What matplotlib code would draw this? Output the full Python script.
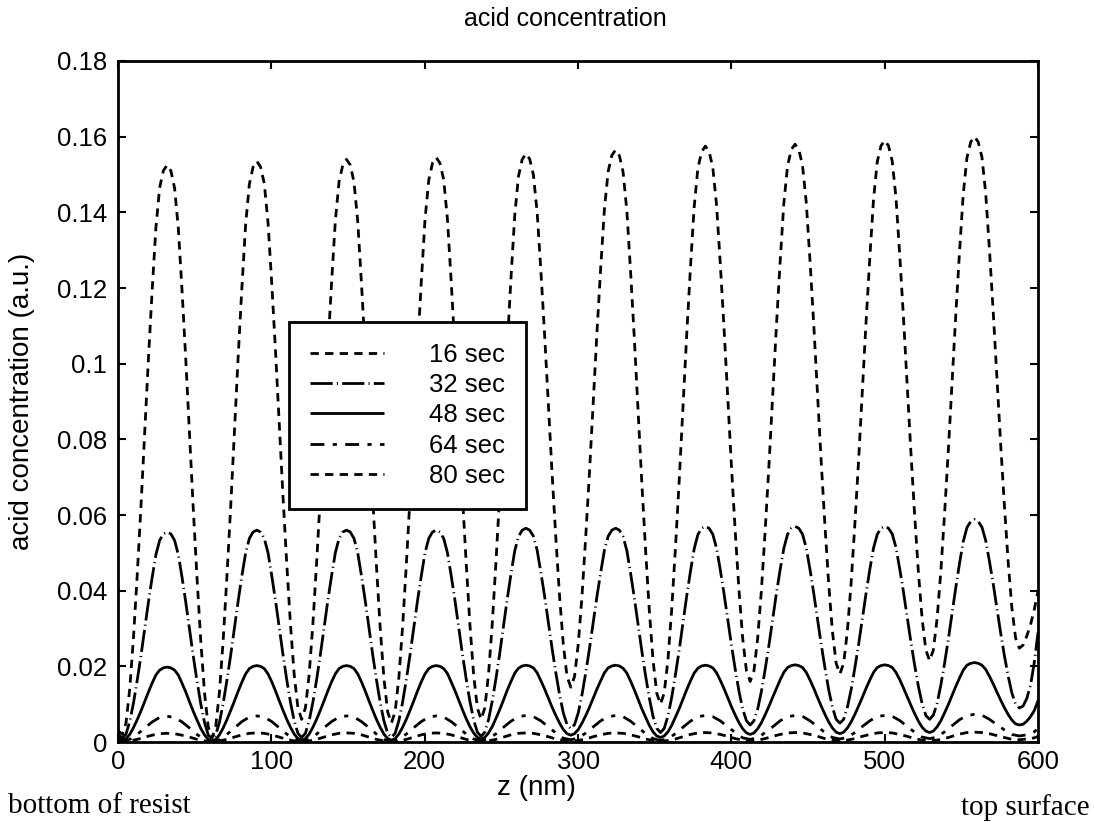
import numpy as np
import matplotlib
matplotlib.use("Agg")
import matplotlib.pyplot as plt

plt.rcParams["font.family"] = ["Liberation Sans", "DejaVu Sans"]
plt.rcParams["lines.scale_dashes"] = False

# depth sampling (nm): 24 samples per standing-wave period for the large curves,
# 12 per period for the two small ones
z_fine = np.concatenate(([0.0], 2.75 + 2.4375 * np.arange(245), [600.0]))
z_coarse = np.concatenate(([0.0], 2.75 + 4.875 * np.arange(123), [600.0]))

acid_16s = [
    0.003,
    0.002, 0.0050, 0.0140, 0.0276, 0.0441, 0.0622, 0.0818, 0.1013, 0.1194, 0.1359, 0.1465, 0.1510,
    0.1525, 0.1510, 0.1464, 0.1358, 0.1192, 0.1010, 0.0813, 0.0616, 0.0434, 0.0268, 0.0131, 0.0040,
    0.001, 0.0041, 0.0132, 0.0269, 0.0437, 0.0620, 0.0818, 0.1017, 0.1200, 0.1367, 0.1474, 0.1520,
    0.1535, 0.1520, 0.1476, 0.1373, 0.1211, 0.1034, 0.0842, 0.0650, 0.0473, 0.0311, 0.0178, 0.0090,
    0.006, 0.0090, 0.0178, 0.0312, 0.0474, 0.0652, 0.0844, 0.1037, 0.1214, 0.1377, 0.1481, 0.1525,
    0.1540, 0.1525, 0.1480, 0.1376, 0.1212, 0.1033, 0.0840, 0.0646, 0.0467, 0.0303, 0.0169, 0.0080,
    0.005, 0.0080, 0.0170, 0.0304, 0.0469, 0.0648, 0.0842, 0.1037, 0.1216, 0.1381, 0.1485, 0.1530,
    0.1545, 0.1530, 0.1486, 0.1382, 0.1218, 0.1040, 0.0847, 0.0654, 0.0476, 0.0312, 0.0179, 0.0090,
    0.006, 0.0090, 0.0180, 0.0314, 0.0479, 0.0658, 0.0852, 0.1047, 0.1226, 0.1391, 0.1495, 0.1540,
    0.1555, 0.1541, 0.1499, 0.1400, 0.1245, 0.1076, 0.0892, 0.0709, 0.0540, 0.0385, 0.0258, 0.0173,
    0.0145, 0.0173, 0.0259, 0.0386, 0.0543, 0.0713, 0.0898, 0.1082, 0.1253, 0.1409, 0.1508, 0.1551,
    0.1565, 0.1550, 0.1506, 0.1404, 0.1243, 0.1067, 0.0876, 0.0686, 0.0510, 0.0349, 0.0217, 0.0129,
    0.010, 0.0130, 0.0218, 0.0351, 0.0513, 0.0690, 0.0882, 0.1074, 0.1251, 0.1413, 0.1516, 0.1560,
    0.1575, 0.1561, 0.1518, 0.1419, 0.1264, 0.1094, 0.0910, 0.0726, 0.0556, 0.0401, 0.0273, 0.0188,
    0.016, 0.0188, 0.0274, 0.0401, 0.0558, 0.0728, 0.0913, 0.1097, 0.1268, 0.1424, 0.1523, 0.1566,
    0.1580, 0.1566, 0.1524, 0.1426, 0.1272, 0.1104, 0.0922, 0.0740, 0.0572, 0.0418, 0.0292, 0.0208,
    0.018, 0.0208, 0.0293, 0.0420, 0.0575, 0.0744, 0.0927, 0.1111, 0.1280, 0.1435, 0.1534, 0.1576,
    0.1590, 0.1576, 0.1535, 0.1439, 0.1288, 0.1123, 0.0944, 0.0765, 0.0600, 0.0449, 0.0325, 0.0243,
    0.0215, 0.0243, 0.0326, 0.0451, 0.0603, 0.0769, 0.0949, 0.1129, 0.1295, 0.1448, 0.1545, 0.1586,
    0.1600, 0.1586, 0.1546, 0.1451, 0.1303, 0.1140, 0.0965, 0.0789, 0.0627, 0.0478, 0.0356, 0.0275,
    0.0248, 0.0256, 0.0280, 0.0310, 0.0350,
    0.040,
]

acid_32s = [
    0.002,
    0.001, 0.0021, 0.0054, 0.0103, 0.0163, 0.0228, 0.0299, 0.0370, 0.0435, 0.0495, 0.0533, 0.0550,
    0.0555, 0.0550, 0.0533, 0.0495, 0.0435, 0.0369, 0.0298, 0.0227, 0.0161, 0.0101, 0.0052, 0.0019,
    0.0008, 0.0019, 0.0052, 0.0102, 0.0163, 0.0229, 0.0301, 0.0372, 0.0439, 0.0499, 0.0538, 0.0555,
    0.0560, 0.0555, 0.0538, 0.0500, 0.0439, 0.0374, 0.0302, 0.0231, 0.0165, 0.0105, 0.0056, 0.0023,
    0.0012, 0.0023, 0.0056, 0.0105, 0.0165, 0.0231, 0.0302, 0.0374, 0.0439, 0.0500, 0.0538, 0.0555,
    0.0560, 0.0555, 0.0538, 0.0500, 0.0439, 0.0374, 0.0302, 0.0231, 0.0165, 0.0105, 0.0056, 0.0023,
    0.0012, 0.0023, 0.0056, 0.0105, 0.0165, 0.0231, 0.0302, 0.0374, 0.0439, 0.0500, 0.0538, 0.0555,
    0.0560, 0.0555, 0.0538, 0.0500, 0.0440, 0.0375, 0.0304, 0.0233, 0.0168, 0.0108, 0.0059, 0.0026,
    0.0015, 0.0026, 0.0059, 0.0109, 0.0169, 0.0235, 0.0307, 0.0378, 0.0444, 0.0505, 0.0543, 0.0560,
    0.0565, 0.0560, 0.0544, 0.0507, 0.0448, 0.0385, 0.0316, 0.0247, 0.0183, 0.0125, 0.0077, 0.0046,
    0.0035, 0.0046, 0.0077, 0.0125, 0.0183, 0.0247, 0.0316, 0.0385, 0.0448, 0.0507, 0.0544, 0.0560,
    0.0565, 0.0560, 0.0543, 0.0506, 0.0446, 0.0381, 0.0311, 0.0241, 0.0176, 0.0117, 0.0068, 0.0036,
    0.0025, 0.0036, 0.0069, 0.0118, 0.0178, 0.0243, 0.0314, 0.0385, 0.0450, 0.0510, 0.0548, 0.0565,
    0.0570, 0.0565, 0.0549, 0.0512, 0.0455, 0.0392, 0.0323, 0.0255, 0.0192, 0.0134, 0.0087, 0.0056,
    0.0045, 0.0056, 0.0087, 0.0134, 0.0192, 0.0255, 0.0323, 0.0392, 0.0455, 0.0512, 0.0549, 0.0565,
    0.0570, 0.0565, 0.0549, 0.0513, 0.0456, 0.0393, 0.0326, 0.0258, 0.0196, 0.0138, 0.0092, 0.0060,
    0.0050, 0.0060, 0.0092, 0.0138, 0.0196, 0.0258, 0.0326, 0.0393, 0.0456, 0.0513, 0.0549, 0.0565,
    0.0570, 0.0565, 0.0550, 0.0514, 0.0458, 0.0397, 0.0330, 0.0264, 0.0203, 0.0147, 0.0101, 0.0070,
    0.0060, 0.0071, 0.0102, 0.0150, 0.0208, 0.0271, 0.0340, 0.0408, 0.0472, 0.0530, 0.0567, 0.0583,
    0.0588, 0.0583, 0.0568, 0.0533, 0.0478, 0.0419, 0.0354, 0.0289, 0.0229, 0.0175, 0.0130, 0.0100,
    0.0090, 0.0095, 0.0115, 0.0150, 0.0210,
    0.029,
]

acid_48s = [
    0.001,
    0.0005, 0.0009, 0.0020, 0.0038, 0.0059, 0.0082, 0.0107, 0.0132, 0.0156, 0.0177, 0.0190, 0.0196,
    0.0198, 0.0196, 0.0190, 0.0177, 0.0155, 0.0132, 0.0106, 0.0081, 0.0058, 0.0036, 0.0019, 0.0007,
    0.0003, 0.0007, 0.0019, 0.0037, 0.0059, 0.0083, 0.0108, 0.0134, 0.0158, 0.0180, 0.0194, 0.0200,
    0.0202, 0.0200, 0.0194, 0.0180, 0.0159, 0.0135, 0.0109, 0.0084, 0.0060, 0.0039, 0.0021, 0.0009,
    0.0005, 0.0009, 0.0021, 0.0039, 0.0060, 0.0084, 0.0109, 0.0135, 0.0159, 0.0180, 0.0194, 0.0200,
    0.0202, 0.0200, 0.0194, 0.0180, 0.0159, 0.0135, 0.0109, 0.0084, 0.0060, 0.0039, 0.0021, 0.0009,
    0.0005, 0.0009, 0.0021, 0.0039, 0.0060, 0.0084, 0.0109, 0.0135, 0.0159, 0.0180, 0.0194, 0.0200,
    0.0202, 0.0200, 0.0194, 0.0181, 0.0159, 0.0136, 0.0111, 0.0086, 0.0062, 0.0041, 0.0024, 0.0012,
    0.0008, 0.0012, 0.0024, 0.0041, 0.0063, 0.0086, 0.0111, 0.0137, 0.0160, 0.0182, 0.0195, 0.0201,
    0.0203, 0.0201, 0.0196, 0.0183, 0.0162, 0.0140, 0.0116, 0.0092, 0.0070, 0.0050, 0.0033, 0.0022,
    0.0018, 0.0022, 0.0033, 0.0050, 0.0070, 0.0092, 0.0116, 0.0140, 0.0162, 0.0183, 0.0196, 0.0201,
    0.0203, 0.0201, 0.0195, 0.0182, 0.0161, 0.0138, 0.0113, 0.0088, 0.0066, 0.0044, 0.0027, 0.0016,
    0.0012, 0.0016, 0.0027, 0.0044, 0.0066, 0.0088, 0.0113, 0.0138, 0.0161, 0.0182, 0.0195, 0.0201,
    0.0203, 0.0201, 0.0196, 0.0183, 0.0163, 0.0141, 0.0117, 0.0093, 0.0071, 0.0051, 0.0035, 0.0024,
    0.0020, 0.0024, 0.0035, 0.0051, 0.0072, 0.0094, 0.0118, 0.0141, 0.0164, 0.0184, 0.0197, 0.0202,
    0.0204, 0.0202, 0.0197, 0.0184, 0.0164, 0.0142, 0.0118, 0.0095, 0.0073, 0.0053, 0.0037, 0.0026,
    0.0022, 0.0026, 0.0037, 0.0053, 0.0073, 0.0095, 0.0118, 0.0142, 0.0164, 0.0184, 0.0197, 0.0202,
    0.0204, 0.0202, 0.0197, 0.0184, 0.0165, 0.0143, 0.0120, 0.0097, 0.0075, 0.0055, 0.0039, 0.0029,
    0.0025, 0.0029, 0.0040, 0.0056, 0.0077, 0.0099, 0.0123, 0.0147, 0.0169, 0.0190, 0.0203, 0.0208,
    0.0210, 0.0208, 0.0203, 0.0192, 0.0174, 0.0154, 0.0132, 0.0111, 0.0091, 0.0073, 0.0058, 0.0048,
    0.0045, 0.0047, 0.0055, 0.0067, 0.0083,
    0.011,
]

acid_64s = [
    0.0004,
    0.0002, 0.0007, 0.0020, 0.0037, 0.0053, 0.0065, 0.0068, 0.0065, 0.0053, 0.0037, 0.0020, 0.0006,
    0.0001, 0.0006, 0.0020, 0.0037, 0.0054, 0.0066, 0.0069, 0.0066, 0.0054, 0.0038, 0.0021, 0.0007,
    0.0002, 0.0007, 0.0021, 0.0038, 0.0054, 0.0066, 0.0069, 0.0066, 0.0054, 0.0038, 0.0021, 0.0007,
    0.0002, 0.0007, 0.0021, 0.0038, 0.0054, 0.0066, 0.0069, 0.0066, 0.0054, 0.0038, 0.0021, 0.0008,
    0.0003, 0.0008, 0.0022, 0.0039, 0.0055, 0.0067, 0.0070, 0.0067, 0.0056, 0.0040, 0.0024, 0.0010,
    0.0006, 0.0010, 0.0024, 0.0040, 0.0056, 0.0067, 0.0070, 0.0067, 0.0055, 0.0039, 0.0022, 0.0009,
    0.0004, 0.0009, 0.0022, 0.0039, 0.0055, 0.0067, 0.0070, 0.0067, 0.0056, 0.0040, 0.0025, 0.0011,
    0.0007, 0.0011, 0.0025, 0.0040, 0.0056, 0.0067, 0.0070, 0.0068, 0.0056, 0.0041, 0.0025, 0.0012,
    0.0008, 0.0012, 0.0025, 0.0041, 0.0056, 0.0068, 0.0070, 0.0068, 0.0057, 0.0041, 0.0026, 0.0013,
    0.0009, 0.0013, 0.0027, 0.0043, 0.0059, 0.0070, 0.0073, 0.0071, 0.0060, 0.0046, 0.0032, 0.0020,
    0.0016, 0.0019, 0.0027,
    0.0036,
]

acid_80s = [
    0.0002,
    0.0001, 0.0003, 0.0007, 0.0013, 0.0018, 0.0022, 0.0023, 0.0022, 0.0018, 0.0013, 0.0007, 0.0003,
    0.0001, 0.0003, 0.0007, 0.0013, 0.0019, 0.0023, 0.0024, 0.0023, 0.0019, 0.0013, 0.0007, 0.0003,
    0.0001, 0.0003, 0.0007, 0.0013, 0.0019, 0.0023, 0.0024, 0.0023, 0.0019, 0.0013, 0.0007, 0.0003,
    0.0001, 0.0003, 0.0007, 0.0013, 0.0019, 0.0023, 0.0024, 0.0023, 0.0019, 0.0013, 0.0007, 0.0003,
    0.0001, 0.0003, 0.0007, 0.0013, 0.0019, 0.0023, 0.0024, 0.0023, 0.0019, 0.0014, 0.0008, 0.0004,
    0.0002, 0.0004, 0.0008, 0.0014, 0.0019, 0.0023, 0.0024, 0.0023, 0.0019, 0.0014, 0.0008, 0.0004,
    0.0002, 0.0004, 0.0008, 0.0014, 0.0020, 0.0024, 0.0025, 0.0024, 0.0020, 0.0015, 0.0009, 0.0005,
    0.0003, 0.0005, 0.0009, 0.0015, 0.0020, 0.0024, 0.0025, 0.0024, 0.0020, 0.0015, 0.0009, 0.0005,
    0.0003, 0.0005, 0.0009, 0.0015, 0.0020, 0.0024, 0.0025, 0.0024, 0.0020, 0.0015, 0.0009, 0.0005,
    0.0003, 0.0005, 0.0009, 0.0015, 0.0021, 0.0025, 0.0026, 0.0025, 0.0022, 0.0017, 0.0012, 0.0007,
    0.0006, 0.0008, 0.0011,
    0.0015,
]

series_labels = ["16 sec", "32 sec", "48 sec", "64 sec", "80 sec"]
x_ticks = [0, 100, 200, 300, 400, 500, 600]
y_ticks = [0, 0.02, 0.04, 0.06, 0.08, 0.1, 0.12, 0.14, 0.16, 0.18]

# line style per bake time (dash pattern in points; None = solid)
dash_styles = [(6.0, 4.5), (16.0, 3.0, 0.8, 3.0), None, (10.0, 6.0, 3.0, 6.0), (6.0, 4.5)]
curves = [(z_fine, acid_16s), (z_fine, acid_32s), (z_fine, acid_48s),
          (z_coarse, acid_64s), (z_coarse, acid_80s)]

fig = plt.figure(figsize=(10.94, 8.22), dpi=100)
ax = fig.add_axes([0.1079, 0.0973, 0.8410, 0.8285])

for (zz, vals), lab, dsh in zip(curves, series_labels, dash_styles):
    line, = ax.plot(zz, vals, color="black", lw=2.0, label=lab,
                    solid_capstyle="butt", dash_capstyle="butt")
    if dsh is not None:
        line.set_dashes(dsh)

ax.set_xlim(0, 600)
ax.set_ylim(0, 0.18)
ax.set_xticks(x_ticks)
ax.set_yticks(y_ticks)
ax.set_xticklabels([f"{v:g}" for v in x_ticks])
ax.set_yticklabels([f"{v:g}" for v in y_ticks])
ax.tick_params(direction="in", top=True, right=True, length=6, width=1.5,
               labelsize=18.5)
ax.tick_params(axis="x", pad=6)
ax.tick_params(axis="y", pad=8)
for sp in ax.spines.values():
    sp.set_linewidth(2.0)

ax.set_title("acid concentration", fontsize=18, x=0.486, pad=25)
ax.set_xlabel("z (nm)", fontsize=20, va="center")
ax.xaxis.set_label_coords(0.455, -0.068)
ax.set_ylabel("acid concentration (a.u.)", fontsize=20, va="center")
ax.yaxis.set_label_coords(-0.1043, 0.5)

leg = ax.legend(loc="upper left", bbox_to_anchor=(0.1859, 0.6167), borderaxespad=0,
                fontsize=18.5, handlelength=2.9, handletextpad=1.75, labelspacing=0.25,
                borderpad=0.8, fancybox=False, framealpha=1, edgecolor="black")
leg.get_frame().set_linewidth(2.0)

fig.text(8 / 1094, 1 - 813 / 822, "bottom of resist", family=["Liberation Serif"],
         fontsize=21, ha="left", va="baseline")
fig.text(1090 / 1094, 1 - 815 / 822, "top surface", family=["Liberation Serif"],
         fontsize=21, ha="right", va="baseline")

fig.savefig("out.png", dpi=100)
